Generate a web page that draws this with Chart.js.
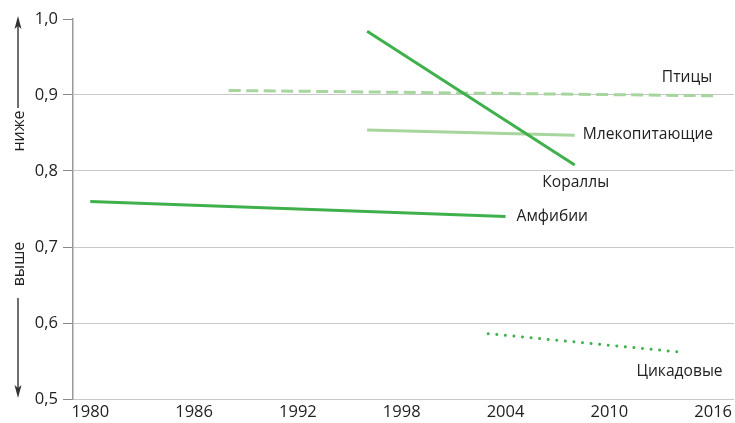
<!DOCTYPE html>
<html>
<head>
<meta charset="utf-8">
<script src="https://cdn.jsdelivr.net/npm/chart.js@4/dist/chart.umd.min.js"></script>
<style>
  html, body { margin: 0; padding: 0; background: #fff; }
  #wrap { width: 735px; height: 423px; }
</style>
</head>
<body>
<div id="wrap"><canvas id="c" width="735" height="423"></canvas></div>
<script>
// ---- data ----
const xTicks = [1980, 1986, 1992, 1998, 2004, 2010, 2016];
const yTicks = [0.5, 0.6, 0.7, 0.8, 0.9, 1.0];

const amphibiansYears = [1980, 2004];
const amphibiansValues = [0.760, 0.740];

const coralsYears = [1996, 2008];
const coralsValues = [0.984, 0.808];

const birdsYears = [1988, 2016];
const birdsValues = [0.906, 0.899];

const mammalsYears = [1996, 2008];
const mammalsValues = [0.854, 0.847];

const cycadsYears = [2003, 2014];
const cycadsValues = [0.586, 0.562];

const seriesNames = ['Амфибии', 'Кораллы', 'Птицы', 'Млекопитающие', 'Цикадовые'];
const axisWordLow = 'ниже';
const axisWordHigh = 'выше';

// ---- build ----
function pts(xs, ys) { return xs.map((x, i) => ({ x: x, y: ys[i] })); }

const DARK = '#3fb04c';
const LIGHT = '#a6d69e';
const FONT = '"Open Sans", sans-serif';

const datasets = [
  { label: seriesNames[0], data: pts(amphibiansYears, amphibiansValues), borderColor: DARK, borderWidth: 3 },
  { label: seriesNames[1], data: pts(coralsYears, coralsValues), borderColor: DARK, borderWidth: 3 },
  { label: seriesNames[2], data: pts(birdsYears, birdsValues), borderColor: LIGHT, borderWidth: 3, borderDash: [12, 5.5] },
  { label: seriesNames[3], data: pts(mammalsYears, mammalsValues), borderColor: LIGHT, borderWidth: 3 },
  { label: seriesNames[4], data: pts(cycadsYears, cycadsValues), borderColor: DARK, borderWidth: 3, borderDash: [0.01, 8.6], borderCapStyle: 'round' }
].map(d => Object.assign({ pointRadius: 0, fill: false, tension: 0 }, d));

// label placement relative to each series' end point: [dx, dy, align]
const labelPlacement = [
  [11, 0, 'left'],
  [1, 18, 'center'],
  [-1, -18, 'right'],
  [8, -1, 'left'],
  [1, 20, 'center']
];

const annot = {
  id: 'annot',
  afterDatasetsDraw(chart) {
    const ctx = chart.ctx;
    ctx.save();
    ctx.font = '15.6px ' + FONT;
    ctx.fillStyle = '#222';
    ctx.textBaseline = 'middle';
    chart.data.datasets.forEach((ds, i) => {
      const meta = chart.getDatasetMeta(i);
      const last = meta.data[meta.data.length - 1];
      const p = labelPlacement[i];
      ctx.textAlign = p[2];
      ctx.fillText(ds.label, last.x + p[0], last.y + p[1]);
    });
    ctx.restore();
  },
  afterDraw(chart) {
    const ctx = chart.ctx;
    const ax = 18;
    ctx.save();
    ctx.strokeStyle = '#333';
    ctx.fillStyle = '#333';
    ctx.lineWidth = 1.4;
    // up arrow
    ctx.beginPath(); ctx.moveTo(ax, 108); ctx.lineTo(ax, 24); ctx.stroke();
    ctx.beginPath(); ctx.moveTo(ax, 16); ctx.lineTo(ax - 3.5, 29); ctx.lineTo(ax, 26); ctx.lineTo(ax + 3.5, 29); ctx.closePath(); ctx.fill();
    // down arrow
    ctx.beginPath(); ctx.moveTo(ax, 298); ctx.lineTo(ax, 390); ctx.stroke();
    ctx.beginPath(); ctx.moveTo(ax, 398); ctx.lineTo(ax - 3.5, 385); ctx.lineTo(ax, 388); ctx.lineTo(ax + 3.5, 385); ctx.closePath(); ctx.fill();
    // words
    ctx.font = '16px ' + FONT;
    ctx.textAlign = 'center';
    ctx.textBaseline = 'middle';
    ctx.fillStyle = '#222';
    [[axisWordLow, 131], [axisWordHigh, 264]].forEach(([t, y]) => {
      ctx.save();
      ctx.translate(ax + 1, y);
      ctx.rotate(-Math.PI / 2);
      ctx.fillText(t, 0, 0);
      ctx.restore();
    });
    ctx.restore();
  }
};

new Chart(document.getElementById('c'), {
  type: 'line',
  data: { datasets },
  options: {
    responsive: false,
    animation: false,
    devicePixelRatio: 1,
    layout: { padding: { top: 19, right: 0, left: 0, bottom: 0 } },
    plugins: { legend: { display: false }, tooltip: { enabled: false } },
    scales: {
      x: {
        type: 'linear',
        min: 1979,
        max: 2017.2,
        afterBuildTicks: s => { s.ticks = xTicks.map(v => ({ value: v })); },
        afterFit: s => { s.height = 24; },
        grid: { display: false, drawTicks: false },
        border: { display: true, color: '#c8c8c8', width: 1 },
        ticks: {
          autoSkip: false, maxRotation: 0, padding: 3,
          color: '#222', font: { family: FONT, size: 16.5 },
          callback: v => String(v)
        }
      },
      y: {
        type: 'linear',
        min: 0.5,
        max: 1.0,
        afterBuildTicks: s => { s.ticks = yTicks.map(v => ({ value: v })); },
        afterFit: s => { s.width = 73; },
        grid: {
          color: c => (c.tick && c.tick.value >= 0.999) ? 'rgba(0,0,0,0)' : '#c8c8c8',
          tickColor: '#888',
          tickLength: 10,
          lineWidth: 1
        },
        border: { display: true, color: '#999', width: 1.5 },
        ticks: {
          padding: 5,
          color: '#222', font: { family: FONT, size: 16.5 },
          callback: v => Number(v).toFixed(1).replace('.', ',')
        }
      }
    }
  },
  plugins: [annot]
});
</script>
</body>
</html>
